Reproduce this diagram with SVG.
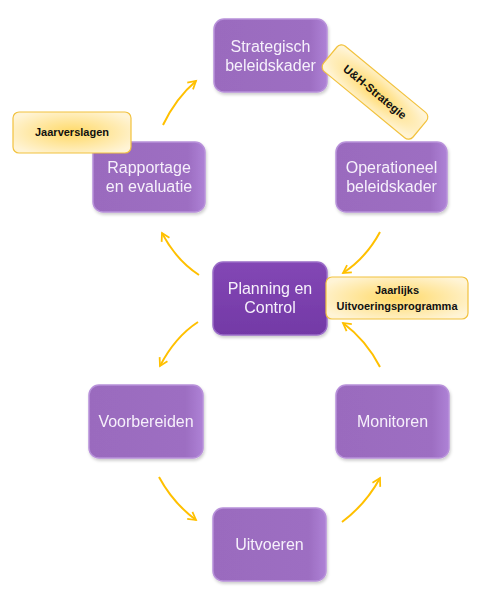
<svg xmlns="http://www.w3.org/2000/svg" width="492" height="593" viewBox="0 0 492 593">
<style>
.box{fill:url(#pg);stroke:#B891DA;stroke-width:1.5}
.dark{fill:url(#dg);stroke:#9A6CC8;stroke-width:1.5}
.t{font-family:"Liberation Sans","Open Sans",sans-serif;font-size:16px;fill:#F6F0FB;text-anchor:middle}
.lbl{fill:url(#yg);stroke:#F2C23E;stroke-width:1.2}
.lt{font-family:"Liberation Sans","Open Sans",sans-serif;font-size:11px;font-weight:bold;fill:#111;text-anchor:middle}
.c{fill:none;stroke:#FFC000;stroke-width:2;marker-end:url(#ah)}
</style>
<defs>
<linearGradient id="pg" x1="0" y1="0" x2="1" y2="0">
<stop offset="0" stop-color="#9A6BBE"/><stop offset="0.85" stop-color="#9D6EC2"/><stop offset="1" stop-color="#AE82D6"/>
</linearGradient>
<linearGradient id="dg" x1="0" y1="0" x2="0" y2="1">
<stop offset="0" stop-color="#8347B5"/><stop offset="1" stop-color="#7339A6"/>
</linearGradient>
<radialGradient id="yg" cx="0.5" cy="0.5" r="0.6">
<stop offset="0" stop-color="#FFD966"/><stop offset="1" stop-color="#FFF4D6"/>
</radialGradient>
<marker id="ah" viewBox="0 0 10 10" refX="8" refY="5" markerWidth="5.5" markerHeight="5.5" orient="auto" markerUnits="strokeWidth">
<path d="M1,1 L8,5 L1,9" fill="none" stroke="#FFC000" stroke-width="1.6"/>
</marker>
<filter id="sh" x="-10%" y="-10%" width="130%" height="130%">
<feDropShadow dx="1" dy="2" stdDeviation="1.5" flood-color="#000" flood-opacity="0.2"/>
</filter>
</defs>
<g id="connectors">
<path class="c" d="M163,125 Q176,98 196,81"/>
<path class="c" d="M380,232 Q366,258 343,273"/>
<path class="c" d="M380,367 Q366,340 343,323"/>
<path class="c" d="M199,275 Q176,260 162,233"/>
<path class="c" d="M198,322 Q175,337 160,366"/>
<path class="c" d="M159,477 Q173,503 196,520"/>
<path class="c" d="M342,522 Q366,504 380,478"/>
</g>
<g id="strategisch" filter="url(#sh)">
<rect class="box" x="214" y="19" width="113" height="73" rx="10"/>
<text class="t" x="270.5" y="52">Strategisch</text>
<text class="t" x="270.5" y="71">beleidskader</text>
</g>
<g id="operationeel" filter="url(#sh)">
<rect class="box" x="336" y="142" width="111" height="70" rx="10"/>
<text class="t" x="391.5" y="173">Operationeel</text>
<text class="t" x="391.5" y="192">beleidskader</text>
</g>
<g id="rapportage" filter="url(#sh)">
<rect class="box" x="93" y="142" width="112" height="70" rx="10"/>
<text class="t" x="149" y="173">Rapportage</text>
<text class="t" x="149" y="192">en evaluatie</text>
</g>
<g id="planning" filter="url(#sh)">
<rect class="dark" x="213" y="262" width="114" height="73" rx="10"/>
<text class="t" x="270" y="294">Planning en</text>
<text class="t" x="270" y="313">Control</text>
</g>
<g id="voorbereiden" filter="url(#sh)">
<rect class="box" x="89" y="385" width="114" height="73" rx="10"/>
<text class="t" x="146" y="427">Voorbereiden</text>
</g>
<g id="monitoren" filter="url(#sh)">
<rect class="box" x="336" y="385" width="113" height="73" rx="10"/>
<text class="t" x="392.5" y="427">Monitoren</text>
</g>
<g id="uitvoeren" filter="url(#sh)">
<rect class="box" x="213" y="508" width="113" height="73" rx="10"/>
<text class="t" x="269.5" y="550">Uitvoeren</text>
</g>
<g id="uh-strategie">
<g transform="translate(375,92) rotate(39.5)">
<rect class="lbl" x="-58" y="-16.5" width="116" height="33" rx="6"/>
<text class="lt" x="0" y="4" style="font-size:11.5px">U&amp;H-Strategie</text>
</g>
</g>
<g id="jaarverslagen">
<rect class="lbl" x="13" y="112" width="118" height="41" rx="6"/>
<text class="lt" x="72" y="136">Jaarverslagen</text>
</g>
<g id="jaarlijks">
<rect class="lbl" x="326" y="277" width="142" height="42" rx="6"/>
<text class="lt" x="397" y="294">Jaarlijks</text>
<text class="lt" x="397" y="310">Uitvoeringsprogramma</text>
</g>
</svg>
